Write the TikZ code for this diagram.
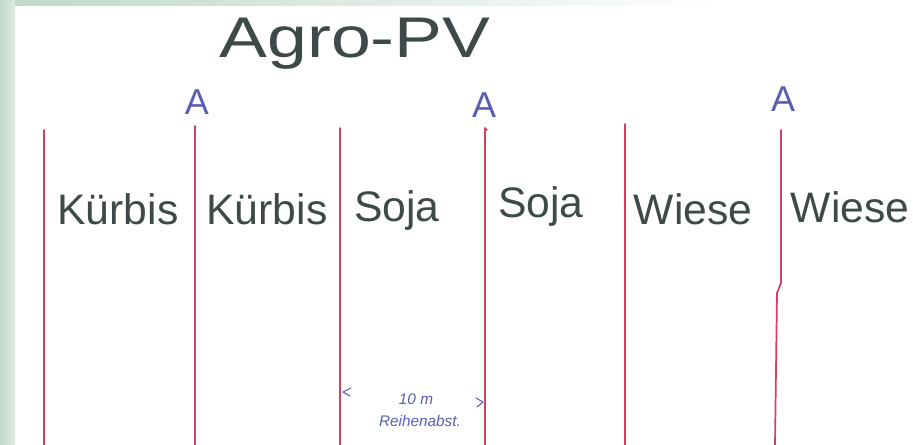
\documentclass[tikz,border=0pt]{standalone}
\usepackage{fontspec}
\setmainfont{Liberation Sans}
\usepackage{graphicx}
\definecolor{pvred}{HTML}{D2405E}
\definecolor{ink}{HTML}{3E4A49}
\definecolor{pen}{HTML}{5A5EB2}
\definecolor{bggreen}{HTML}{BFD9CB}
\tikzset{
  rowline/.style={draw=pvred, line width=1.3pt, line cap=round, line join=round},
  croplabel/.style={anchor=base, text=ink, inner sep=0pt, font=\fontsize{32}{36}\selectfont},
  titlelabel/.style={anchor=base, text=ink, inner sep=0pt, font=\fontsize{43}{46}\selectfont},
  alabel/.style={anchor=base, text=pen, inner sep=0pt, font=\fontsize{27}{30}\selectfont},
  notelabel/.style={anchor=base, text=pen, inner sep=0pt, font=\itshape\fontsize{11.5}{13}\selectfont},
  penline/.style={draw=pen, line width=0.8pt, line cap=round, line join=round}
}
\begin{document}
\begin{tikzpicture}[x=0.75pt,y=-0.75pt]
\useasboundingbox (0,0) rectangle (913,445);
\fill[white] (0,0) rectangle (913,445);
\shade[left color=bggreen, right color=bggreen!50] (0,0) rectangle (15,445);
\shade[left color=bggreen, right color=white] (15,0) rectangle (720,6);

% title
\node[titlelabel] (title) at (355,58) {\scalebox{1.25}[1]{Agro-PV}};

% row lines
\coordinate (l1t) at (44,130);  \coordinate (l1b) at (44,445);
\coordinate (l2t) at (195,126); \coordinate (l2b) at (195,445);
\coordinate (l3t) at (340,128); \coordinate (l3b) at (340,445);
\coordinate (l4t) at (485,128); \coordinate (l4b) at (485,445);
\coordinate (l5t) at (625,124); \coordinate (l5b) at (625,445);
\coordinate (l6t) at (781,130); \coordinate (l6b) at (775,445);
\draw[rowline] (l1t) -- (l1b);
\draw[rowline] (l2t) -- (l2b);
\draw[rowline] (l3t) -- (l3b);
\draw[rowline] (487,130) -- (l4t) -- (l4b);
\draw[rowline] (l5t) -- (l5b);
\draw[rowline] (l6t) -- (781,283) -- (777,293) -- (l6b);

% A labels
\node[alabel] (a1) at (197,115) {A};
\node[alabel] (a2) at (484,118) {A};
\node[alabel] (a3) at (783,112) {A};

% crops
\node[croplabel] (k1) at (118,225) {Kürbis};
\node[croplabel] (k2) at (267,225) {Kürbis};
\node[croplabel] (s1) at (397,222) {Soja};
\node[croplabel] (s2) at (541,218) {Soja};
\node[croplabel] (w1) at (693,225) {Wiese};
\node[croplabel] (w2) at (850,223) {Wiese};

% spacing note
\draw[penline] (351,388) -- (343,392) -- (350,396);
\draw[penline] (476,398) -- (483,402) -- (477,407);
\node[notelabel] (dist) at (416,404) {10 m};
\node[notelabel] (abst) at (420,426) {Reihenabst.};
\end{tikzpicture}
\end{document}
